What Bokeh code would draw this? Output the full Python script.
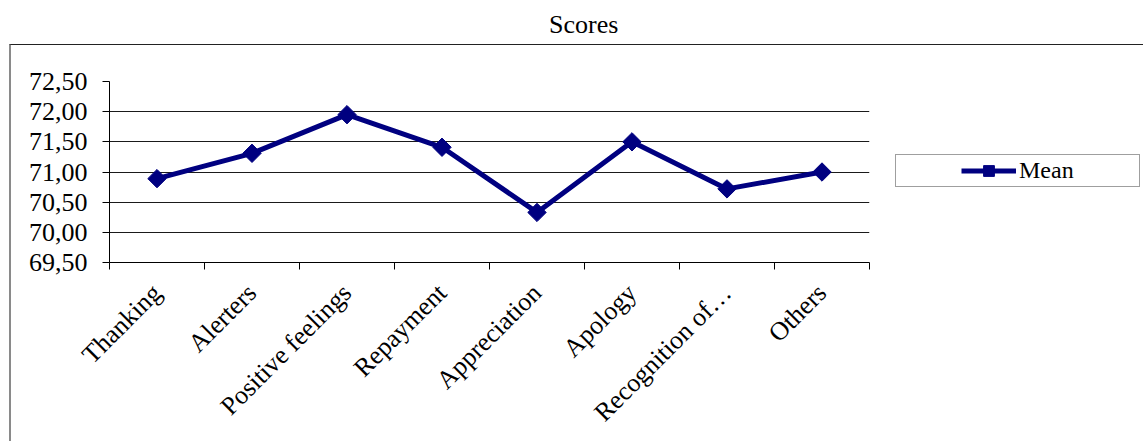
import math
from bokeh.plotting import figure
from bokeh.models import Range1d, FixedTicker, Legend, LegendItem, Div
from bokeh.layouts import column
from bokeh.embed import file_html
from bokeh.resources import INLINE

# ---- data ----
categories = ["Thanking", "Alerters", "Positive feelings", "Repayment",
              "Appreciation", "Apology", "Recognition of\u2026", "Others"]
mean_values = [70.89, 71.31, 71.95, 71.41, 70.33, 71.50, 70.72, 71.00]
y_ticks = [69.5, 70.0, 70.5, 71.0, 71.5, 72.0, 72.5]
y_tick_labels = ["69,50", "70,00", "70,50", "71,00", "71,50", "72,00", "72,50"]
series_name = "Mean"
chart_title = "Scores"

n = len(categories)
xs = [i + 0.5 for i in range(n)]
FONT = "Liberation Serif"
NAVY = "#000080"

title_div = Div(
    text=f'<div style="margin:10px 0 0 549px; font-family:\'Liberation Serif\'; '
         f'font-size:26px; line-height:normal; color:black; white-space:nowrap">{chart_title}</div>',
    width=1143, height=44, margin=0)

p = figure(frame_width=758, frame_height=180,
           min_border_left=98, min_border_right=277,
           min_border_top=36, min_border_bottom=180,
           x_range=Range1d(0, n), y_range=Range1d(y_ticks[0], y_ticks[-1]),
           output_backend="svg", toolbar_location=None, tools="")
p.margin = (0, 0, 0, 9)
p.styles = {"border-left": "2px solid #8a8a8a", "border-top": "1px solid #222222"}
p.outline_line_color = None
p.background_fill_color = "white"
p.border_fill_color = "white"

# x axis
xa = p.xaxis[0]
xa.ticker = FixedTicker(ticks=xs, minor_ticks=list(range(n + 1)))
xa.major_label_overrides = dict(zip(xs, categories))
xa.major_tick_line_color = None
xa.major_tick_out = 0
xa.major_tick_in = 0
xa.minor_tick_out = 7
xa.minor_tick_in = 0
xa.minor_tick_line_color = "black"
xa.axis_line_color = "black"
xa.major_label_orientation = math.pi / 4
xa.major_label_standoff = 19
xa.major_label_text_font = FONT
xa.major_label_text_font_size = "26px"
xa.major_label_text_color = "black"

# y axis
ya = p.yaxis[0]
ya.ticker = FixedTicker(ticks=y_ticks)
ya.major_label_overrides = dict(zip(y_ticks, y_tick_labels))
ya.major_tick_out = 7
ya.major_tick_in = 0
ya.minor_tick_line_color = None
ya.axis_line_color = "black"
ya.major_tick_line_color = "black"
ya.major_label_standoff = 15
ya.major_label_text_font = FONT
ya.major_label_text_font_size = "26px"
ya.major_label_text_color = "black"

p.xgrid.visible = False
p.ygrid.ticker = FixedTicker(ticks=y_ticks[1:-1])
p.ygrid.grid_line_color = "#1a1a1a"
p.ygrid.grid_line_width = 1

r_line = p.line(xs, mean_values, line_color=NAVY, line_width=5)
r_mark = p.scatter(xs, mean_values, marker="square", size=13, angle=math.pi / 4,
                   fill_color=NAVY, line_color=NAVY)
# invisible spacer renderer used only to pad the legend box
r_pad = p.line(x=[], y=[], line_alpha=0)

legend = Legend(items=[LegendItem(label=" ", renderers=[r_pad]),
                       LegendItem(label=series_name, renderers=[r_line, r_mark]),
                       LegendItem(label=" ", renderers=[r_pad])],
                orientation="horizontal",
                location=(26, 75), border_line_color="#404040", border_line_width=1,
                background_fill_color="white", background_fill_alpha=1,
                padding=2, spacing=5, margin=0, glyph_width=55, glyph_height=27,
                label_width=0, label_height=27,
                label_standoff=3, label_text_font=FONT, label_text_font_size="24px",
                label_text_color="black")
p.add_layout(legend, "right")

layout = column(title_div, p, spacing=0)
open("out.html", "w").write(file_html(layout, INLINE))
